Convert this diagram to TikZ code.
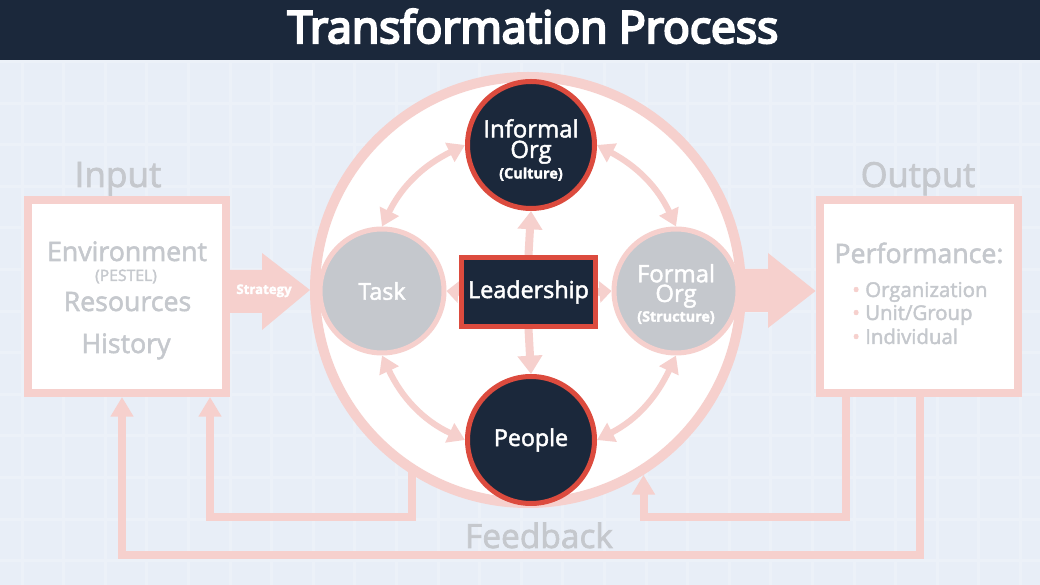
\documentclass[tikz,border=0pt]{standalone}
\usepackage{fontspec}
\setmainfont{Open Sans}[FakeBold=2]
\newfontfamily\titlefont{Open Sans}[FakeBold=5]
\usetikzlibrary{arrows.meta}
\definecolor{navy}{HTML}{1B283B}
\definecolor{redb}{HTML}{DC4B3E}
\definecolor{pinkc}{HTML}{F6D0CD}
\definecolor{grayt}{HTML}{C5C8CD}
\definecolor{bgc}{HTML}{E8EEF7}
\definecolor{gridc}{HTML}{ECF1F8}
\def\pxu{0.025cm}
\newcommand{\myfs}[1]{\fontsize{#1}{#1}\selectfont}
\pgfdeclarelayer{back}
\pgfdeclarelayer{mid}
\pgfdeclarelayer{conn}
\pgfsetlayers{back,mid,conn,main}
\tikzset{
  darkcirc/.style={circle, fill=navy, draw=redb, line width=5*\pxu, minimum size=127*\pxu, inner sep=0pt, text=white, align=center},
  graycirc/.style={circle, fill=grayt, draw=pinkc, line width=5*\pxu, minimum size=124*\pxu, inner sep=0pt, text=white, align=center},
  pbox/.style={rectangle, fill=white, draw=pinkc, line width=8*\pxu, minimum width=198*\pxu, minimum height=193*\pxu},
  lbl/.style={anchor=base, text=grayt, inner sep=0pt},
  wtxt/.style={text=white, inner sep=0pt, align=center},
  curv/.style={draw=pinkc, line width=4.3pt, {Triangle[width=14.5pt,length=12pt]}-{Triangle[width=14.5pt,length=12pt]}},
  larr/.style={draw=pinkc, line width=5.7pt, -{Triangle[width=17pt,length=13pt]}},
  sarr/.style={draw=pinkc, line width=5.7pt, -{Triangle[width=15pt,length=8.5pt]}},
  fb/.style={draw=pinkc, line width=5.7pt, -{Triangle[width=15.6pt,length=14pt]}},
}
\begin{document}
\begin{tikzpicture}[x=\pxu,y=\pxu]
\useasboundingbox (0,0) rectangle (1040,585);
\begin{pgfonlayer}{back}
  \fill[bgc] (0,0) rectangle (1040,585);
  \foreach \i in {0,...,25} \draw[gridc, line width=3*\pxu] ({22+41.6*\i},0) -- ({22+41.6*\i},585);
  \foreach \i in {0,...,14} \draw[gridc, line width=3*\pxu] (0,{565-41.6*\i}) -- (1040,{565-41.6*\i});
  \fill[navy] (0,525) rectangle (1040,585);
\end{pgfonlayer}
\node[anchor=base, text=white, inner sep=0pt, font=\titlefont\myfs{31.6}] (title) at (533,542) {Transformation Process};

\begin{pgfonlayer}{mid}
  \node[circle, fill=white, draw=pinkc, line width=10*\pxu, minimum size=426*\pxu, inner sep=0pt] (big) at (528,295) {};
\end{pgfonlayer}

\node[darkcirc] (inf) at (531,440) {};
\node[wtxt, font=\fontsize{17}{14.6}\selectfont] (inftxt) at (531,435) {Informal\\Org\\{\bfseries\fontsize{10.3}{14.6}\selectfont (Culture)}};
\node[darkcirc, font=\myfs{16.5}] (ppl) at (531,145) {People};
\node[graycirc, font=\myfs{16.6}] (task) at (382,294) {Task};
\node[graycirc] (form) at (676,294) {};
\node[wtxt, font=\fontsize{17}{14}\selectfont] (formtxt) at (676,291) {Formal\\Org\\{\bfseries\fontsize{10.2}{14}\selectfont (Structure)}};
\node[rectangle, fill=navy, draw=redb, line width=5*\pxu, minimum width=134*\pxu, minimum height=69*\pxu, text=white, font=\myfs{16.6}] (lead) at (528.5,293) {Leadership};

\node[pbox] (inp) at (127,288.5) {};
\node[pbox] (outp) at (918.5,288.5) {};

\node[lbl, font=\myfs{25}] (inlbl) at (118,398) {Input};
\node[lbl, font=\myfs{24.5}] (outlbl) at (918,398) {Output};
\node[lbl, font=\myfs{23.8}] (fblbl) at (539,37) {Feedback};
\node[lbl, font=\myfs{19}] (env) at (127,324) {Environment};
\node[lbl, font=\myfs{11.2}] (pest) at (126,304) {(PESTEL)};
\node[lbl, font=\myfs{19}] (res) at (127.5,274) {Resources};
\node[lbl, font=\myfs{19}] (hist) at (126,232) {History};
\node[lbl, font=\myfs{19}] (perf) at (919,322) {Performance:};
\node[lbl, anchor=base west, font=\myfs{14.5}] (b1) at (852,288) {\textcolor{pinkc}{•} Organization};
\node[lbl, anchor=base west, font=\myfs{14.5}] (b2) at (852,265) {\textcolor{pinkc}{•} Unit/Group};
\node[lbl, anchor=base west, font=\myfs{14.5}] (b3) at (852,241) {\textcolor{pinkc}{•} Individual};

\begin{pgfonlayer}{back}
  \fill[pinkc] (inp.east |- 0,315) -- (262,315) -- (262,332) -- (big.west) -- (262,255) -- (262,272) -- (inp.east |- 0,272) -- cycle;
  \fill[pinkc] (700,316) -- (768,316) -- (768,332) -- (outp.west |- 0,294) -- (768,257) -- (768,273) -- (700,273) -- cycle;
  \draw[fb] ([xshift=104*\pxu]outp.south west) -- ++(0,-158) -| ([xshift=98*\pxu]inp.south west);
  \draw[fb] ([yshift=10*\pxu]big.-122.5) -- (big.-122.5 |- 0,68) -| ([xshift=186*\pxu]inp.south west);
  \draw[fb] ([xshift=30*\pxu]outp.south west) |- (big.-58 |- 0,68) -- (big.-58);
\end{pgfonlayer}
\node[anchor=base, text=white, inner sep=0pt, font=\bfseries\myfs{9.4}] (strat) at (264,291) {Strategy};

\begin{pgfonlayer}{conn}
  \draw[curv] (task.north) to[out=64,in=206] (inf.west);
  \draw[curv] (inf.east) to[out=-28,in=115] (form.north);
  \draw[curv] (form.south) to[out=245,in=27] (ppl.east);
  \draw[curv] (ppl.west) to[out=155,in=295] (task.south);
  \draw[larr] (lead.north) -- (inf.south);
  \draw[larr] (lead.south) -- (ppl.north);
  \draw[sarr] (lead.west) -- (task.east);
  \draw[sarr] (lead.east) -- (form.west);
\end{pgfonlayer}
\end{tikzpicture}
\end{document}
